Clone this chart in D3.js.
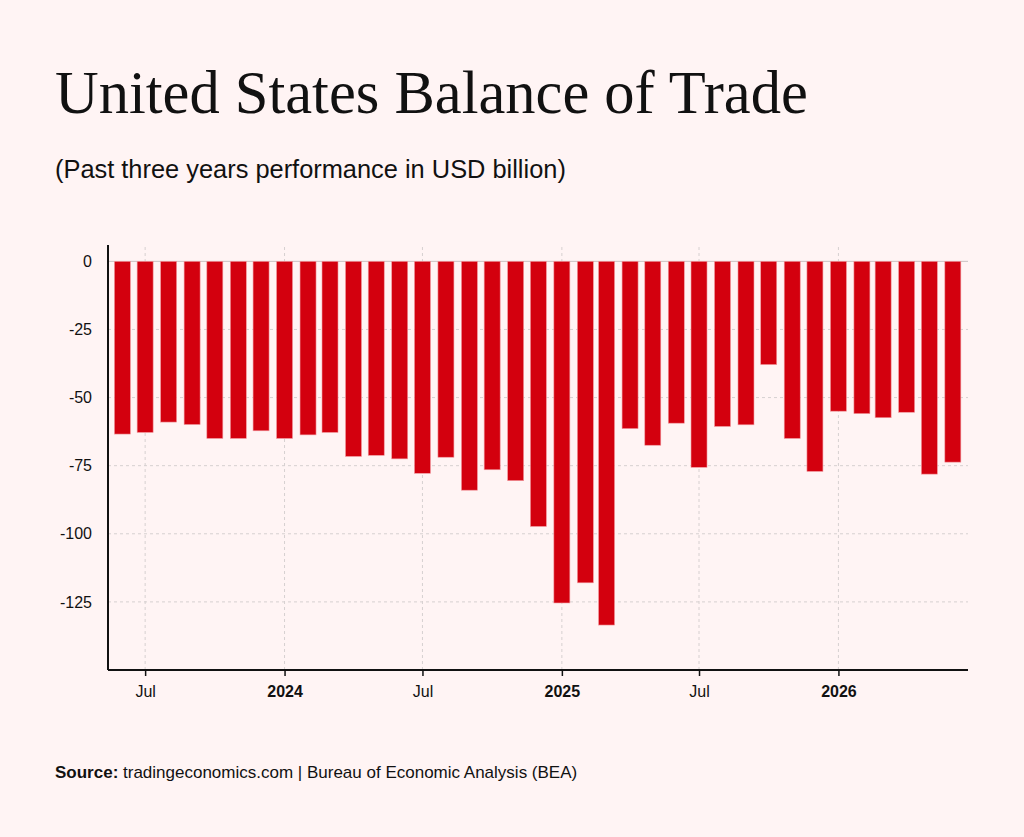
<!DOCTYPE html>
<html>
<head>
<meta charset="utf-8">
<script src="https://cdn.jsdelivr.net/npm/d3@7"></script>
<style>
  html, body { margin: 0; padding: 0; background: #fff4f4; }
  svg { display: block; }
</style>
</head>
<body>
<div class="content"></div>
<script>
// monthly balance of trade, Jun 2023 .. Jun 2026 (USD billion)
var months = [
    '2023-06', '2023-07', '2023-08', '2023-09', '2023-10', '2023-11', '2023-12',
    '2024-01', '2024-02', '2024-03', '2024-04', '2024-05', '2024-06', '2024-07',
    '2024-08', '2024-09', '2024-10', '2024-11', '2024-12', '2025-01', '2025-02',
    '2025-03', '2025-04', '2025-05', '2025-06', '2025-07', '2025-08', '2025-09',
    '2025-10', '2025-11', '2025-12', '2026-01', '2026-02', '2026-03', '2026-04',
    '2026-05', '2026-06'
];
var balance = [
    -63.4, -62.8, -59.0, -59.9, -65.0, -65.0, -62.2,
    -65.0, -63.7, -62.8, -71.6, -71.2, -72.5, -77.8,
    -71.9, -84.0, -76.5, -80.5, -97.3, -125.4, -118.0,
    -133.5, -61.4, -67.5, -59.4, -75.6, -60.6, -60.0,
    -37.9, -65.0, -77.1, -55.0, -55.9, -57.4, -55.4,
    -78.1, -73.7
];
var yTicks = [0, -25, -50, -75, -100, -125];
var xTicks = ['2023-07', '2024-01', '2024-07', '2025-01', '2025-07', '2026-01'];

var chart = {
    width: 1024,
    height: 837,
    left: 108,
    right: 968,
    top: 245,
    bottom: 670,
    barWidth: 16,
    fill: '#d3000e',
    grid: '#d6d0d0'
};

var parseMonth = d3.timeParse('%Y-%m');

window.onload = function() {
    var data = months.map(function(m, i) {
        return { date: parseMonth(m), value: balance[i] };
    });

    var svg = d3.select('.content').append('svg')
        .attr('width', chart.width)
        .attr('height', chart.height)
        .style('font-family', '"Liberation Sans", Arial, sans-serif');

    svg.append('rect')
        .attr('width', chart.width)
        .attr('height', chart.height)
        .attr('fill', '#fff4f4');

    svg.append('text')
        .attr('x', 55)
        .attr('y', 113)
        .style('font-family', '"Liberation Serif", "Times New Roman", serif')
        .style('font-size', '60.5px')
        .attr('fill', '#111')
        .text('United States Balance of Trade');

    svg.append('text')
        .attr('x', 55)
        .attr('y', 178)
        .style('font-size', '25.4px')
        .attr('fill', '#111')
        .text('(Past three years performance in USD billion)');

    var source = svg.append('text')
        .attr('x', 55)
        .attr('y', 778)
        .style('font-size', '17px')
        .attr('fill', '#111');
    source.append('tspan').style('font-weight', 'bold').text('Source:');
    source.append('tspan').text(' tradingeconomics.com | Bureau of Economic Analysis (BEA)');

    var x = d3.scaleTime()
        .domain([new Date(2023, 4, 13), new Date(2026, 5, 21)])
        .range([chart.left, chart.right]);
    var y = d3.scaleLinear()
        .domain([-150, 6])
        .range([chart.bottom, chart.top]);

    // grid
    var grid = svg.append('g');
    grid.selectAll('.hgrid')
        .data(yTicks.filter(function(t) { return t !== 0; }))
        .enter().append('line')
        .attr('x1', chart.left)
        .attr('x2', chart.right)
        .attr('y1', function(d) { return y(d); })
        .attr('y2', function(d) { return y(d); })
        .attr('stroke', chart.grid)
        .attr('stroke-dasharray', '3,3');
    grid.selectAll('.vgrid')
        .data(xTicks)
        .enter().append('line')
        .attr('x1', function(d) { return x(parseMonth(d)); })
        .attr('x2', function(d) { return x(parseMonth(d)); })
        .attr('y1', chart.top + 2)
        .attr('y2', chart.bottom)
        .attr('stroke', chart.grid)
        .attr('stroke-dasharray', '3,3');
    grid.append('line')
        .attr('x1', chart.left)
        .attr('x2', chart.right)
        .attr('y1', y(0))
        .attr('y2', y(0))
        .attr('stroke', '#c8c2c2');

    // bars
    svg.append('g').selectAll('rect')
        .data(data)
        .enter().append('rect')
        .attr('x', function(d) { return x(d.date) - chart.barWidth / 2; })
        .attr('width', chart.barWidth)
        .attr('y', y(0))
        .attr('height', function(d) { return y(d.value) - y(0); })
        .attr('fill', chart.fill)
        .attr('stroke', '#f29aa0')
        .attr('stroke-width', 0.6);

    // y axis
    var yAxis = svg.append('g')
        .attr('transform', 'translate(' + chart.left + ',0)')
        .call(d3.axisLeft(y).tickValues(yTicks).tickSize(0).tickPadding(16)
            .tickFormat(function(d) { return String(d); }));
    yAxis.select('.domain')
        .attr('d', 'M0,' + chart.top + 'V' + chart.bottom)
        .attr('stroke', '#111')
        .attr('stroke-width', 2);
    yAxis.selectAll('text')
        .style('font-size', '16px')
        .style('font-family', '"Liberation Sans", Arial, sans-serif')
        .attr('fill', '#111');

    // x axis
    var xAxis = svg.append('g')
        .attr('transform', 'translate(0,' + chart.bottom + ')')
        .call(d3.axisBottom(x)
            .tickValues(xTicks.map(parseMonth))
            .tickSize(6)
            .tickPadding(10)
            .tickFormat(function(d) {
                return d.getMonth() === 0 ? d3.timeFormat('%Y')(d) : d3.timeFormat('%b')(d);
            }));
    xAxis.select('.domain')
        .attr('d', 'M' + chart.left + ',0H' + chart.right)
        .attr('stroke', '#111')
        .attr('stroke-width', 2);
    xAxis.selectAll('.tick line')
        .attr('stroke', '#111')
        .attr('stroke-width', 1.5);
    xAxis.selectAll('text')
        .style('font-size', '16px')
        .style('font-family', '"Liberation Sans", Arial, sans-serif')
        .style('font-weight', function(d) { return d.getMonth() === 0 ? 'bold' : 'normal'; })
        .attr('fill', '#111');
};
</script>
</body>
</html>
